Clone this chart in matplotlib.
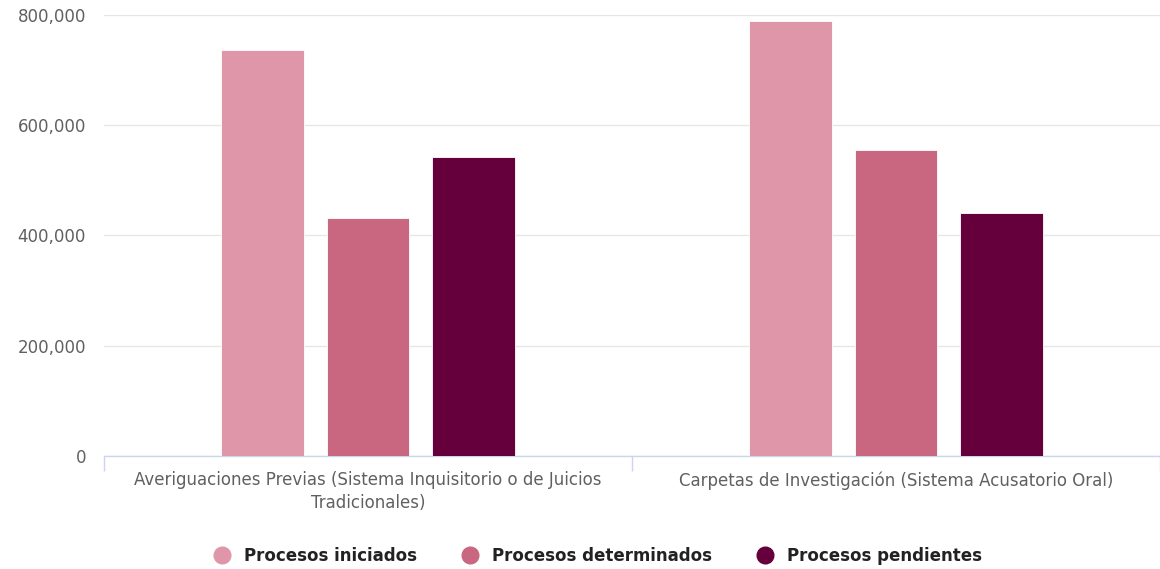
import numpy as np
import matplotlib.pyplot as plt
from matplotlib.lines import Line2D
from matplotlib.ticker import FuncFormatter, MultipleLocator

categories = [
    'Averiguaciones Previas (Sistema Inquisitorio o de Juicios\nTradicionales)',
    'Carpetas de Investigación (Sistema Acusatorio Oral)',
]
series_names = ['Procesos iniciados', 'Procesos determinados', 'Procesos pendientes']
iniciados = [737000, 789000]
determinados = [431000, 555000]
pendientes = [542000, 440000]
colors = ['#e096a9', '#c8677f', '#65003c']

values = [iniciados, determinados, pendientes]

fig = plt.figure(figsize=(11.6, 5.69), dpi=100)
ax = fig.add_axes([104 / 1160, 1 - 456 / 569, 1 - 104 / 1160, (456 - 15) / 569])

x = np.arange(len(categories))
width = 0.157
step = 0.2
for i, (vals, col) in enumerate(zip(values, colors)):
    ax.bar(x + (i - 1) * step, vals, width, color=col, edgecolor='white',
           linewidth=0.6, zorder=3)

ax.set_xlim(-0.5, 1.5)
ax.set_ylim(0, 800000)
ax.yaxis.set_major_locator(MultipleLocator(200000))
ax.yaxis.set_major_formatter(FuncFormatter(lambda v, p: f'{int(v):,}'))
ax.grid(axis='y', color='#e6e6e6', linewidth=1, zorder=0)

for s in ['top', 'right', 'left']:
    ax.spines[s].set_visible(False)
ax.spines['bottom'].set_color('#ccd6eb')
ax.spines['bottom'].set_linewidth(1)

# category ticks sit on the group boundaries, labels in the middle
ax.set_xticks([-0.5, 0.5, 1.5])
ax.set_xticklabels([])
ax.set_xticks(x, minor=True)
ax.set_xticklabels(categories, minor=True, fontsize=12, color='#606060',
                   linespacing=1.35)
ax.tick_params(axis='x', which='major', length=11, color='#ccd6eb', width=1)
ax.tick_params(axis='x', which='minor', length=0, pad=11)
ax.tick_params(axis='y', length=0, labelsize=12, labelcolor='#606060', pad=13)

handles = [Line2D([], [], marker='o', linestyle='none', markersize=12,
                  markerfacecolor=c, markeredgecolor=c) for c in colors]
fig.legend(handles, series_names, loc='center', bbox_to_anchor=(0.511, 1 - 556 / 569),
           ncol=3, frameon=False, handletextpad=0.2, columnspacing=1.85,
           prop={'family': 'DejaVu Sans', 'stretch': 'condensed',
                 'weight': 'bold', 'size': 13.3},
           labelcolor='#222222')

fig.savefig('out.png', dpi=100)
